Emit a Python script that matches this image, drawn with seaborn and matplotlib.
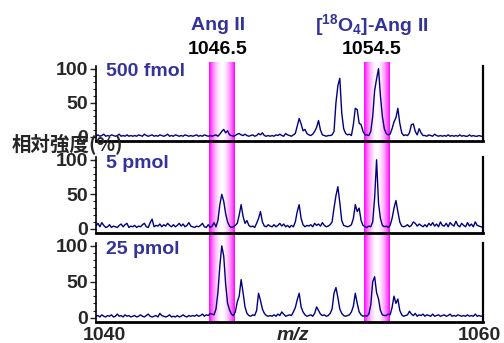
import numpy as np
import pandas as pd
import matplotlib
matplotlib.use("Agg")
import matplotlib.pyplot as plt
from matplotlib.ticker import MultipleLocator
import seaborn as sns

# m/z sampling of the spectra (1040.0 ... 1060.0, 0.1 step)
mz_start, mz_step = 1040.0, 0.1

# relative intensity (%), one row per m/z unit
fmol500 = [
    1, 3, 1, 2, 4, 1, 2, 1, 3, 2,
    1, 2, 4, 1, 2, 1, 3, 1, 2, 1,
    2, 1, 3, 2, 1, 4, 2, 1, 2, 3,
    1, 2, 1, 3, 2, 1, 2, 4, 1, 2,
    1, 3, 2, 1, 2, 1, 3, 2, 1, 2,
    1, 2, 3, 1, 2, 1, 3, 2, 1, 2,
    1, 2, 3, 1, 4, 8, 11, 6, 9, 3,
    2, 1, 2, 4, 5, 3, 2, 4, 2, 1,
    2, 3, 1, 2, 5, 3, 6, 2, 1, 2,
    1, 2, 1, 3, 2, 4, 2, 1, 5, 3,
    2, 1, 3, 5, 16, 27, 19, 9, 11, 5,
    3, 2, 4, 8, 14, 24, 10, 3, 2, 1,
    2, 2, 3, 8, 50, 75, 86, 35, 12, 5,
    3, 4, 2, 18, 42, 40, 20, 18, 8, 3,
    3, 2, 8, 30, 68, 85, 100, 60, 30, 12,
    5, 3, 4, 12, 22, 28, 42, 20, 6, 2,
    3, 2, 6, 18, 19, 8, 3, 12, 6, 2,
    2, 1, 3, 2, 1, 4, 2, 1, 2, 1,
    2, 1, 3, 1, 2, 1, 2, 1, 3, 1,
    2, 1, 1, 3, 1, 2, 1, 1, 2, 1,
    1,
]
pmol5 = [
    4, 8, 3, 9, 5, 2, 3, 6, 2, 4,
    3, 2, 5, 7, 3, 6, 8, 2, 4, 3,
    5, 2, 4, 3, 6, 8, 3, 2, 9, 14,
    3, 5, 4, 7, 3, 6, 4, 8, 5, 3,
    6, 3, 5, 8, 4, 7, 3, 5, 9, 4,
    3, 2, 4, 3, 5, 8, 3, 2, 6, 2,
    4, 9, 3, 12, 35, 50, 40, 22, 10, 4,
    2, 3, 5, 8, 20, 35, 18, 8, 12, 5,
    3, 4, 2, 8, 15, 25, 10, 4, 3, 6,
    4, 3, 6, 3, 5, 8, 4, 7, 3, 5,
    2, 5, 3, 10, 25, 35, 15, 6, 3, 5,
    4, 6, 3, 8, 5, 7, 4, 9, 5, 3,
    4, 6, 10, 30, 48, 61, 38, 12, 5, 4,
    3, 4, 6, 15, 35, 25, 30, 12, 5, 3,
    2, 4, 3, 10, 45, 100, 37, 15, 5, 3,
    4, 2, 5, 15, 30, 41, 25, 10, 4, 3,
    4, 6, 3, 5, 10, 8, 4, 7, 5, 3,
    6, 3, 8, 5, 9, 4, 7, 3, 10, 5,
    4, 8, 3, 9, 6, 4, 11, 5, 3, 8,
    5, 3, 9, 4, 7, 3, 10, 5, 4, 3,
    2,
]
pmol25 = [
    2, 3, 1, 4, 2, 1, 3, 2, 4, 1,
    2, 5, 2, 3, 1, 4, 2, 3, 1, 2,
    3, 1, 2, 4, 2, 1, 3, 5, 2, 1,
    2, 3, 1, 6, 3, 2, 1, 2, 4, 1,
    2, 1, 3, 1, 2, 4, 2, 1, 3, 2,
    3, 2, 4, 2, 3, 5, 2, 4, 3, 6,
    5, 4, 12, 35, 72, 100, 86, 47, 20, 11,
    5, 3, 8, 22, 30, 53, 35, 15, 6, 3,
    2, 4, 3, 10, 34, 24, 12, 6, 3, 2,
    3, 2, 4, 2, 5, 3, 8, 5, 2, 3,
    4, 3, 8, 14, 25, 34, 15, 8, 4, 2,
    3, 4, 2, 6, 15, 10, 5, 3, 4, 2,
    3, 6, 12, 34, 42, 28, 12, 6, 3, 2,
    3, 4, 8, 16, 34, 20, 8, 4, 2, 3,
    2, 5, 18, 50, 57, 35, 26, 10, 4, 3,
    3, 5, 4, 14, 30, 20, 26, 10, 4, 2,
    3, 4, 9, 5, 3, 6, 2, 4, 3, 5,
    2, 4, 3, 2, 5, 2, 3, 4, 2, 3,
    4, 2, 3, 5, 2, 3, 2, 4, 3, 2,
    3, 2, 4, 2, 3, 2, 5, 2, 3, 2,
    2,
]

panel_labels = ["500 fmol", "5 pmol", "25 pmol"]
band_centers = [1046.5, 1054.5]
band_names = ["Ang II", r"[$^{\mathbf{18}}$O$_{\mathbf{4}}$]-Ang II"]
band_mz_labels = ["1046.5", "1054.5"]
y_ticks = [0, 50, 100]
x_labels = ["1040", "1060"]

sns.set_style("white")
plt.rcParams["font.family"] = ["Liberation Sans", "Noto Sans CJK JP", "DejaVu Sans"]
plt.rcParams["mathtext.fontset"] = "custom"
plt.rcParams["mathtext.rm"] = "Liberation Sans:bold"
plt.rcParams["mathtext.bf"] = "Liberation Sans:bold"
plt.rcParams["mathtext.it"] = "Liberation Sans:bold:italic"

label_blue = "#333399"
line_blue = "#000080"

W, H = 504, 343
fig = plt.figure(figsize=(W / 100, H / 100), dpi=100)

left, right = 96 / W, 483 / W
panels_px = [(66, 141), (157, 233), (243, 322)]

# pink bands behind all three panels
bg = fig.add_axes([left, (H - 322) / H, right - left, (322 - 62) / H], zorder=0)
bg.set_xlim(1040, 1060)
bg.set_ylim(0, 1)
bg.axis("off")
t = np.linspace(-1, 1, 200)
w = 1 - np.abs(t) ** 1.8
grad = np.stack([np.ones_like(w), w, np.ones_like(w)], axis=-1)[None, :, :]
for c in band_centers:
    bg.imshow(grad, extent=[c - 0.65, c + 0.65, 0, 1], aspect="auto")

series = [fmol500, pmol5, pmol25]
mz = np.round(mz_start + mz_step * np.arange(len(fmol500)), 1)

axes = []
for i, (top, bot) in enumerate(panels_px):
    ax = fig.add_axes([left, (H - bot) / H, right - left, (bot - top) / H], zorder=1)
    ax.set_facecolor("none")
    df = pd.DataFrame({"mz": mz, "intensity": series[i]})
    sns.lineplot(data=df, x="mz", y="intensity", ax=ax, color=line_blue, linewidth=1.0)
    ax.set_xlim(1040, 1060)
    ax.set_ylim(-6, 104)
    ax.set_xlabel("")
    ax.set_ylabel("")
    ax.set_xticks([])
    ax.set_yticks(y_ticks)
    ax.yaxis.set_minor_locator(MultipleLocator(10))
    ax.tick_params(axis="y", which="major", direction="out", length=4, width=1,
                   labelsize=14, pad=2, left=True)
    ax.tick_params(axis="y", which="minor", direction="out", length=2, width=0.8, left=True)
    for lab in ax.get_yticklabels():
        lab.set_fontweight("bold")
    ax.spines["top"].set_visible(False)
    for s in ["left", "right", "bottom"]:
        ax.spines[s].set_color("black")
    ax.spines["left"].set_linewidth(1.2)
    ax.spines["right"].set_linewidth(1.6)
    ax.spines["bottom"].set_linewidth(2.0)
    ax.text(0.026, 0.92, panel_labels[i], transform=ax.transAxes, color=label_blue,
            fontsize=14, fontweight="bold", ha="left", va="center")
    axes.append(ax)

# compound names and m/z above the bands
for x_px, name, mzlab in zip([218, 372], band_names, band_mz_labels):
    fig.text(x_px / W, 1 - 25 / H, name, color=label_blue, fontsize=14,
             fontweight="bold", ha="center", va="center")
    fig.text(x_px / W, 1 - 49 / H, mzlab, color="black", fontsize=14,
             fontweight="bold", ha="center", va="center")

# x axis labels
fig.text(104 / W, 1 - 335 / H, x_labels[0], fontsize=14, fontweight="bold",
         ha="center", va="center")
fig.text(479 / W, 1 - 335 / H, x_labels[1], fontsize=14, fontweight="bold",
         ha="center", va="center")
fig.text(293 / W, 1 - 335 / H, "m/z", fontsize=14, fontweight="bold",
         fontstyle="italic", ha="center", va="center")

# y label (horizontal, over the top panel's zero as in the original)
fig.text(12 / W, 1 - 144 / H, "相対強度(%)", fontsize=14, fontweight="bold",
         family=["Noto Sans CJK JP", "DejaVu Sans"], ha="left", va="center", zorder=5)

fig.savefig("out.png", dpi=100)
